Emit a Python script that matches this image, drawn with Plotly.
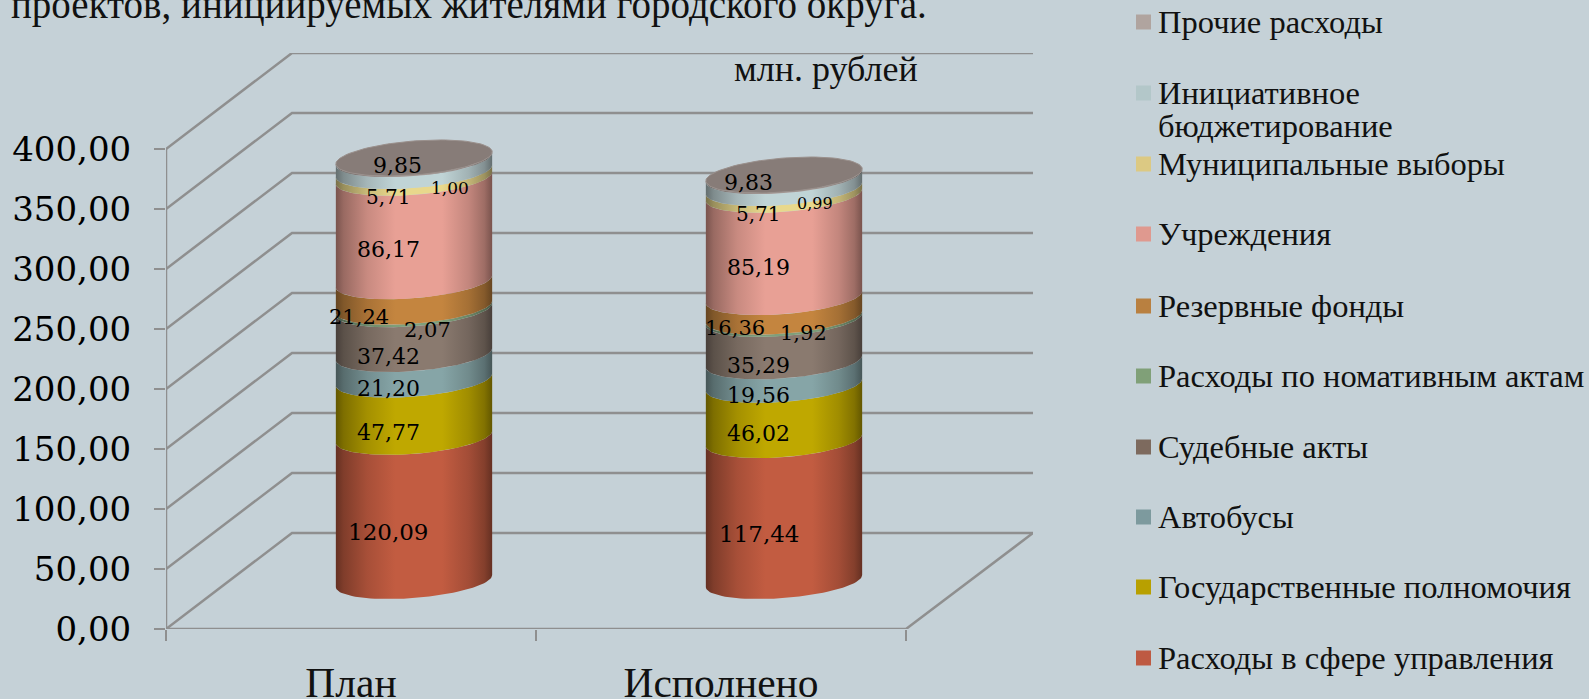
import math
import plotly.graph_objs as go

BG = "#C5D1D7"
GRID = "#8F8F8F"
SERIF = "Liberation Serif"
NUM_FONT = "DejaVu Serif"

categories = ["План", "Исполнено"]
series_names = ["Расходы в сфере управления", "Государственные полномочия", "Автобусы",
                "Судебные акты", "Расходы по номативным актам", "Резервные фонды",
                "Учреждения", "Муниципальные выборы", "Инициативное<br>бюджетирование",
                "Прочие расходы"]
plan_values = [120.09, 47.77, 21.20, 37.42, 2.07, 21.24, 86.17, 5.71, 9.85, 1.00]
done_values = [117.44, 46.02, 19.56, 35.29, 1.92, 16.36, 85.19, 5.71, 9.83, 0.99]
y_ticks = [0, 50, 100, 150, 200, 250, 300, 350, 400]
y_ticktext = ["0,00", "50,00", "100,00", "150,00", "200,00", "250,00", "300,00", "350,00", "400,00"]

legend_colors = ["#BE5A42", "#B8A000", "#7D9A9E", "#7D6A5E", "#80A078",
                 "#B98040", "#DF998F", "#DCC983", "#B3C7C9", "#B0A49F"]
band_colors = ["#C25C41", "#BFA800", "#86A5A7", "#8A7A6F", "#7F9F7A",
               "#C4853F", "#E8A095", "#E8D88C", "#C0D4D6", "#A79C98"]
legend_y_px = [658, 587, 517, 447, 376, 306, 234, 164, 93, 22]

# label nudges in px from the centre of each band
plan_label_dx = [-26, -26, -26, -26, 13, -55, -26, -26, -17, 36]
plan_label_dy = [23, 24, 22, 25, 22, 23, 20, 23, 0, 29]
plan_label_size = [23, 22, 22, 22, 21, 21, 22, 20, 22, 17]
done_label_dx = [-25, -26, -26, -26, 19, -49, -26, -26, -36, 31]
done_label_dy = [23, 21, 22, 25, 15, 21, 22, 23, 0, 28]
done_label_size = [23, 22, 22, 22, 21, 21, 22, 20, 22, 16]

# chart scale: px per unit, everything else is worked out through the axes
PX_X = 370.0
PX_Y = 1.2
WALL_X = 126 / PX_X
WALL_Y = 96 / PX_Y
X_END = -0.5 + 867 / PX_X
shade = [(0, 0.52), (0.05, 0.66), (0.2, 0.86), (0.38, 1.0), (0.68, 1.0), (0.85, 0.84), (0.95, 0.68), (1, 0.52)]


def shaded(hex_color):
    r, g, b = [int(hex_color[i:i + 2], 16) for i in (1, 3, 5)]
    return [[p, f"rgb({r * k:.0f},{g * k:.0f},{b * k:.0f})"] for p, k in shade]


def rim(cat, level, start, stop, steps=48):
    # ellipse of the cylinder at a given value, between two angles
    xs, ys = [], []
    for i in range(steps + 1):
        t = math.radians(start + (stop - start) * i / steps)
        xs.append(cat + WALL_X / 2 + (75 * math.cos(t) - 22 * math.sin(t)) / PX_X)
        ys.append(level + WALL_Y / 2 + (math.cos(t) - 18 * math.sin(t)) / PX_Y)
    return xs, ys


fig = go.Figure()

# walls and floor
for v in y_ticks:
    fig.add_trace(go.Scatter(x=[-0.5, -0.5 + WALL_X, X_END], y=[v, v + WALL_Y, v + WALL_Y], mode="lines",
                             line=dict(color=GRID, width=2.5), hoverinfo="skip", showlegend=False))
fig.add_trace(go.Scatter(x=[-0.5, -0.5, None, -0.5, 1.5, X_END], y=[0, 400, None, 0, 0, WALL_Y], mode="lines",
                         line=dict(color=GRID, width=2.5), hoverinfo="skip", showlegend=False))

annotations = []
for cat, values, dxs, dys, sizes in [(0, plan_values, plan_label_dx, plan_label_dy, plan_label_size),
                                     (1, done_values, done_label_dx, done_label_dy, done_label_size)]:
    base = 0
    for i, v in enumerate(values):
        low_x, low_y = rim(cat, base, -16.3, 163.7)
        up_x, up_y = rim(cat, base + v, 163.7, -16.3)
        fig.add_trace(go.Scatter(x=low_x + up_x, y=low_y + up_y, mode="lines", fill="toself",
                                 line=dict(width=0), fillgradient=dict(type="horizontal", colorscale=shaded(band_colors[i])),
                                 name=series_names[i], hoverinfo="skip", showlegend=False))
        annotations.append(dict(x=cat + WALL_X / 2 + dxs[i] / PX_X, y=base + v / 2 + WALL_Y / 2 - dys[i] / PX_Y,
                                xref="x", yref="y", text=f"{v:.2f}".replace(".", ","), showarrow=False,
                                font=dict(family=NUM_FONT, size=sizes[i], color="#000000")))
        base += v
    lid_x, lid_y = rim(cat, base, 0, 360, 96)
    fig.add_trace(go.Scatter(x=lid_x, y=lid_y, mode="lines", fill="toself", fillcolor="#877C78",
                             line=dict(width=1, color="#9A908C"), hoverinfo="skip", showlegend=False))


def px_x(px):
    return (px - 166) / 867


def px_y(py):
    return (629 - py) / 576


def page_text(px, py, text, size, xanchor="left"):
    return dict(xref="paper", yref="paper", x=px_x(px), y=px_y(py), xanchor=xanchor, yanchor="middle",
                text=text, showarrow=False, font=dict(family=SERIF, size=size, color="#111111"))


# legend
shapes = []
for name, color, py in zip(series_names, legend_colors, legend_y_px):
    shapes.append(dict(type="rect", xref="paper", yref="paper", x0=px_x(1136), x1=px_x(1151),
                       y0=px_y(py + 7.5), y1=px_y(py - 7.5), fillcolor=color, line_width=0))
    for n, line in enumerate(name.split("<br>")):
        annotations.append(page_text(1156, py + 33 * n, line, 32.5))

annotations.append(page_text(826, 69, "млн. рублей", 36, "center"))
annotations.append(page_text(9, 5, "проектов, инициируемых жителями городского округа.", 39))

fig.update_layout(
    width=1589, height=699,
    margin=dict(l=166, r=556, t=53, b=70, autoexpand=False),
    paper_bgcolor=BG, plot_bgcolor=BG,
    showlegend=False,
    xaxis=dict(range=[-0.5, X_END], tickvals=[0, 1], ticktext=categories, showgrid=False, zeroline=False,
               ticks="", ticklabelstandoff=25, tickfont=dict(family=SERIF, size=41.5, color="#111111"),
               minor=dict(tickvals=[-0.5, 0.5, 1.5], ticks="outside", ticklen=11, tickwidth=2, tickcolor=GRID, showgrid=False)),
    yaxis=dict(range=[0, 480], tickvals=y_ticks, ticktext=y_ticktext, showgrid=False, zeroline=False,
               ticks="outside", ticklen=11, tickwidth=2, tickcolor=GRID, ticklabelstandoff=16,
               tickfont=dict(family=NUM_FONT, size=34, color="#000000")),
    shapes=shapes,
    annotations=annotations,
)

fig.write_html("out.html", config=dict(displayModeBar=False), post_script="document.body.style.margin='0';")
